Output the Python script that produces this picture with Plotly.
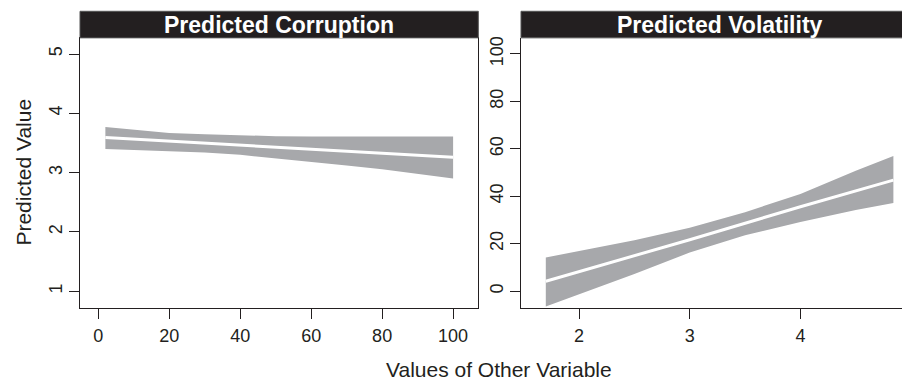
import plotly.graph_objects as go

# ---- data ----
corr_x = [2, 10, 20, 30, 40, 50, 60, 70, 80, 90, 100]
corr_upper = [3.77, 3.72, 3.67, 3.645, 3.625, 3.615, 3.61, 3.61, 3.61, 3.61, 3.61]
corr_lower = [3.40, 3.385, 3.365, 3.34, 3.30, 3.245, 3.18, 3.12, 3.055, 2.98, 2.90]
corr_line_x = [2, 20, 40, 60, 80, 100]
corr_line_y = [3.59, 3.53, 3.46, 3.39, 3.33, 3.26]

vol_x = [1.7, 2.0, 2.5, 3.0, 3.5, 4.0, 4.5, 4.84]
vol_upper = [14.2, 17.0, 21.5, 26.7, 33.3, 41.0, 50.8, 57.0]
vol_lower = [-6.5, -1.2, 7.2, 16.3, 23.6, 29.2, 34.2, 37.2]
vol_line_x = [1.7, 2.0, 3.0, 4.0, 4.84]
vol_line_y = [4.2, 8.2, 21.7, 35.6, 46.8]

corr_xticks = [0, 20, 40, 60, 80, 100]
corr_yticks = [1, 2, 3, 4, 5]
vol_xticks = [2, 3, 4]
vol_yticks = [0, 20, 40, 60, 80, 100]

titles = ["Predicted Corruption", "Predicted Volatility"]
ylab = "Predicted Value"
xlab = "Values of Other Variable"

# page has an 8px body margin: figure is placed at (8, 8)
OFF = 8
W, H = 910 - OFF, 381 - OFF
def px(x):
    return (x - OFF) / W
def py(y):
    return 1 - (y - OFF) / H

FONT = "Liberation Sans, Arial, Helvetica, sans-serif"
BAND = "#a7a8ab"
INK = "#231f20"

fig = go.Figure()

def band(xs, up, lo, xa, ya):
    fig.add_trace(go.Scatter(
        x=list(xs) + list(xs)[::-1], y=list(up) + list(lo)[::-1],
        fill="toself", fillcolor=BAND, line=dict(width=0), mode="lines",
        xaxis=xa, yaxis=ya, hoverinfo="skip", showlegend=False))

band(corr_x, corr_upper, corr_lower, "x", "y")
fig.add_trace(go.Scatter(x=corr_line_x, y=corr_line_y, mode="lines",
                         line=dict(color="white", width=3), xaxis="x", yaxis="y",
                         showlegend=False))
band(vol_x, vol_upper, vol_lower, "x2", "y2")
fig.add_trace(go.Scatter(x=vol_line_x, y=vol_line_y, mode="lines",
                         line=dict(color="white", width=3), xaxis="x2", yaxis="y2",
                         showlegend=False))

top, bot = 36, 307.3
common = dict(showgrid=False, zeroline=False, showline=True, linecolor=INK, linewidth=1.3,
              ticks="outside", ticklen=10, tickwidth=1.2, tickcolor=INK,
              tickfont=dict(family=FONT, size=18, color=INK))

fig.update_layout(
    width=W, height=H, margin=dict(l=0, r=0, t=0, b=0),
    paper_bgcolor="white", plot_bgcolor="white", showlegend=False,
    xaxis=dict(domain=[px(80), px(478.3)], range=[-5.15, 107.1], tickvals=corr_xticks,
               mirror=True, anchor="y", ticklabelstandoff=2, **common),
    yaxis=dict(domain=[py(bot), py(top)], range=[0.721, 5.273], tickvals=corr_yticks,
               mirror=True, anchor="x", tickangle=-90, ticklabelstandoff=0, **common),
    xaxis2=dict(domain=[px(521), 1.0], range=[1.476, 4.99], tickvals=vol_xticks,
                anchor="y2", ticklabelstandoff=2, **common),
    yaxis2=dict(domain=[py(bot), py(top)], range=[-6.96, 106.8], tickvals=vol_yticks,
                anchor="x2", tickangle=-90, ticklabelstandoff=0, **common),
)

# title strips
for x0, x1 in [(80, 478.3), (521, 930)]:
    fig.add_shape(type="rect", xref="paper", yref="paper",
                  x0=px(x0), x1=px(x1), y0=py(36), y1=py(9.3),
                  fillcolor=INK, line=dict(color="#555", width=1), layer="above")

for t, cx in zip(titles, [279, 720]):
    fig.add_annotation(text="<b>%s</b>" % t, xref="paper", yref="paper",
                       x=px(cx), y=py(23), xanchor="center", yanchor="middle",
                       showarrow=False, font=dict(family=FONT, size=23, color="white"))

fig.add_annotation(text=ylab, xref="paper", yref="paper", x=px(24), y=py(171.5),
                   xanchor="center", yanchor="middle", textangle=-90, showarrow=False,
                   font=dict(family=FONT, size=21, color=INK))
fig.add_annotation(text=xlab, xref="paper", yref="paper", x=px(498.5), y=py(369),
                   xanchor="center", yanchor="middle", showarrow=False,
                   font=dict(family=FONT, size=21, color=INK))

fig.write_html("out.html")
